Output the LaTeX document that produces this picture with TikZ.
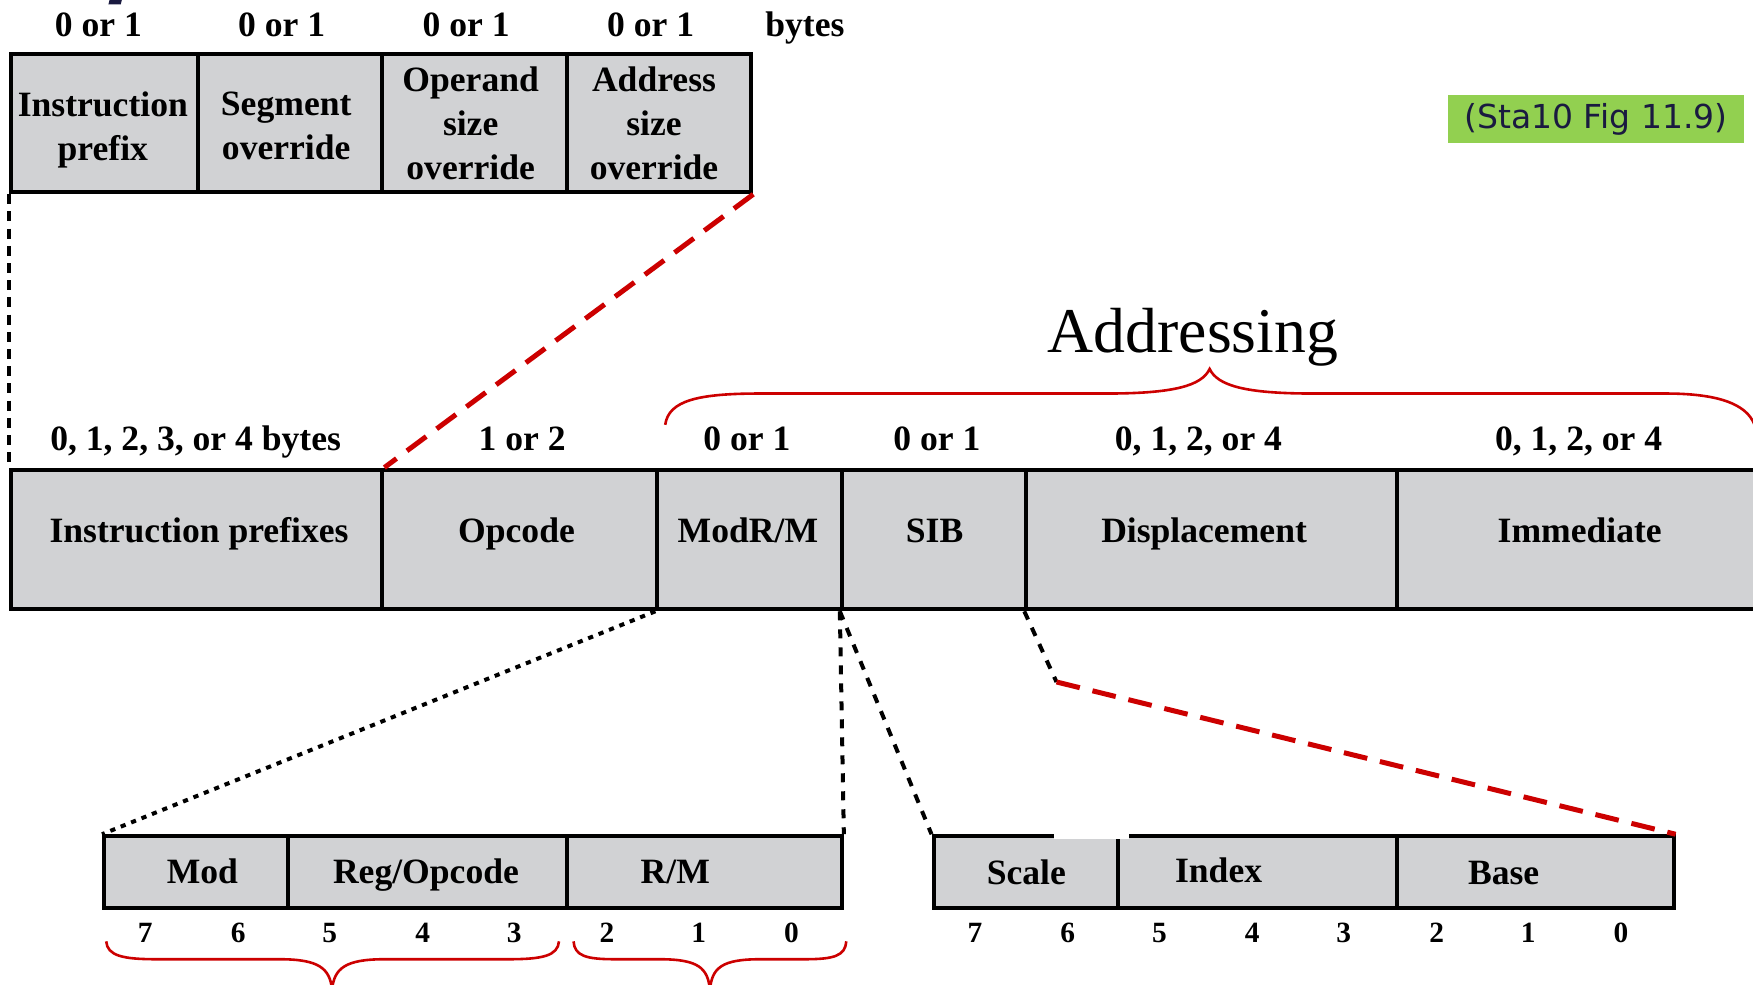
\documentclass[tikz,border=0pt]{standalone}
\usepackage{fontspec}
\setmainfont{Liberation Serif}
\newfontfamily\tagfont{DejaVu Sans}
\usetikzlibrary{fit}
\definecolor{cellgray}{HTML}{D1D2D4}
\definecolor{linered}{HTML}{CC0000}
\definecolor{taggreen}{HTML}{92D050}
\definecolor{tagnavy}{HTML}{1A1A40}
\tikzset{
  cell/.style={draw, line width=2pt, fill=cellgray, inner sep=0pt},
  celltext/.style={font=\fontsize{17.8pt}{22pt}\selectfont\bfseries, align=center, inner sep=0pt},
  sizelabel/.style={font=\fontsize{17.8pt}{22pt}\selectfont\bfseries, anchor=base, inner sep=0pt},
  bitnum/.style={font=\fontsize{14.7pt}{17pt}\selectfont\bfseries, anchor=base, inner sep=0pt},
  blackdash/.style={line width=2pt, dash pattern=on 5pt off 3.6pt},
  finedash/.style={line width=2pt, dash pattern=on 4.5pt off 4.5pt},
  blackdot/.style={line width=2pt, dash pattern=on 2.6pt off 3pt},
  reddash/.style={draw=linered, line width=2.5pt, dash pattern=on 12pt off 6.5pt},
  brace/.style={draw=linered, line width=1.3pt}
}
\begin{document}
\begin{tikzpicture}[x=0.559pt, y=-0.559pt]
\useasboundingbox (0,0) rectangle (1568,881);
\clip (0,0) rectangle (1568,881);

% small mark at the top edge
\fill[tagnavy] (98,0) -- (109,0) -- (108,4) -- (97,4) -- cycle;

% prefix bytes
\node[cell, fit={(10,48) (177,172)}] (pfx) {};
\node[cell, fit={(177,48) (342,172)}] (seg) {};
\node[cell, fit={(342,48) (507,172)}] (opsz) {};
\node[cell, fit={(507,48) (672,172)}] (adsz) {};
\node[celltext] (pfxT) at (92,116) {Instruction\\prefix};
\node[celltext] (segT) at (256,112.5) {Segment\\override};
\node[celltext] (opszT) at (421,110) {Operand\\size\\override};
\node[celltext] (adszT) at (585,110) {Address\\size\\override};
\node[sizelabel] (pfxN) at (88,32.5) {0 or 1};
\node[sizelabel] (segN) at (252,32.5) {0 or 1};
\node[sizelabel] (opszN) at (417,32.5) {0 or 1};
\node[sizelabel] (adszN) at (582,32.5) {0 or 1};
\node[sizelabel] (bytesN) at (720,32.5) {bytes};

% instruction format
\node[cell, fit={(10,420) (342,545)}] (ip) {};
\node[cell, fit={(342,420) (588,545)}] (opc) {};
\node[cell, fit={(588,420) (753,545)}] (modrm) {};
\node[cell, fit={(753,420) (918,545)}] (sib) {};
\node[cell, fit={(918,420) (1250,545)}] (disp) {};
\node[cell, fit={(1250,420) (1640,545)}] (imm) {};
\node[sizelabel] (ipT) at (178,485) {Instruction prefixes};
\node[sizelabel] (opcT) at (462,485) {Opcode};
\node[sizelabel] (modrmT) at (669,485) {ModR/M};
\node[sizelabel] (sibT) at (836,485) {SIB};
\node[sizelabel] (dispT) at (1077,485) {Displacement};
\node[sizelabel] (immT) at (1413,485) {Immediate};
\node[sizelabel] (ipN) at (175,403) {0, 1, 2, 3, or 4 bytes};
\node[sizelabel] (opcN) at (467,403) {1 or 2};
\node[sizelabel] (modrmN) at (668,403) {0 or 1};
\node[sizelabel] (sibN) at (838,403) {0 or 1};
\node[sizelabel] (dispN) at (1072,403) {0, 1, 2, or 4};
\node[sizelabel] (immN) at (1412,403) {0, 1, 2, or 4};

% addressing brace
\draw[brace] (595,380) .. controls (598,358) and (625,352) .. (680,352) -- (990,352)
  .. controls (1050,352) and (1075,345) .. (1082,330)
  .. controls (1089,345) and (1114,352) .. (1174,352) -- (1490,352)
  .. controls (1545,352) and (1565,365) .. (1570,382);
\node[font=\fontsize{31.9pt}{36pt}\selectfont, anchor=base, inner sep=0pt] (addr) at (1067,315) {Addressing};

% ModR/M byte
\node[cell, fit={(93,748) (258,812)}] (mod) {};
\node[cell, fit={(258,748) (507,812)}] (reg) {};
\node[cell, fit={(507,748) (753,812)}] (rm) {};
\node[sizelabel] (modT) at (181,790) {Mod};
\node[sizelabel] (regT) at (381,790) {Reg/Opcode};
\node[sizelabel] (rmT) at (604,790) {R/M};

% SIB byte
\node[cell, fit={(835,748) (1000,812)}] (scale) {};
\node[cell, fit={(1000,748) (1250,812)}] (index) {};
\node[cell, fit={(1250,748) (1497,812)}] (base) {};
\fill[white] (943,745) rectangle (1010,750.5);
\node[sizelabel] (scaleT) at (918,791) {Scale};
\node[sizelabel] (indexT) at (1090,789) {Index};
\node[sizelabel] (baseT) at (1345,791) {Base};

% bit numbers
\foreach \x/\b in {130/7,213/6,295/5,378/4,460/3,543/2,625/1,708/0}
  \node[bitnum] (mbit\b) at (\x,843) {\b};
\foreach \x/\b in {872/7,955/6,1037/5,1120/4,1202/3,1285/2,1367/1,1450/0}
  \node[bitnum] (sbit\b) at (\x,843) {\b};

% field braces under the ModR/M byte
\draw[brace] (95,842) .. controls (96,855) and (110,858) .. (140,858) -- (250,858)
  .. controls (285,858) and (295,866) .. (297,885)
  .. controls (299,866) and (309,858) .. (344,858) -- (455,858)
  .. controls (485,858) and (499,855) .. (500,842);
\draw[brace] (513,842) .. controls (514,855) and (524,858) .. (550,858) -- (590,858)
  .. controls (625,858) and (633,866) .. (635,885)
  .. controls (637,866) and (645,858) .. (680,858) -- (720,858)
  .. controls (746,858) and (756,855) .. (757,842);

% expansion lines
\draw[blackdash] (pfx.south west) -- (ip.north west);
\draw[reddash] (adsz.south east) -- (ip.north east);
\draw[blackdot] (modrm.south west) -- (mod.north west);
\draw[finedash] (sib.south west) -- (rm.north east);
\draw[finedash] (sib.south west) -- (scale.north west);
\coordinate (bend) at (945,610);
\draw[finedash] (disp.south west) -- (bend);
\draw[reddash] (bend) -- (base.north east);

% source tag
\node[fill=taggreen, inner sep=0pt, minimum width=265*0.559pt, minimum height=43*0.559pt,
  text=tagnavy, font=\tagfont\fontsize{16.5pt}{18pt}\selectfont] (tag) at (1427.5,106.5) {(Sta10 Fig 11.9)};
\end{tikzpicture}
\end{document}
